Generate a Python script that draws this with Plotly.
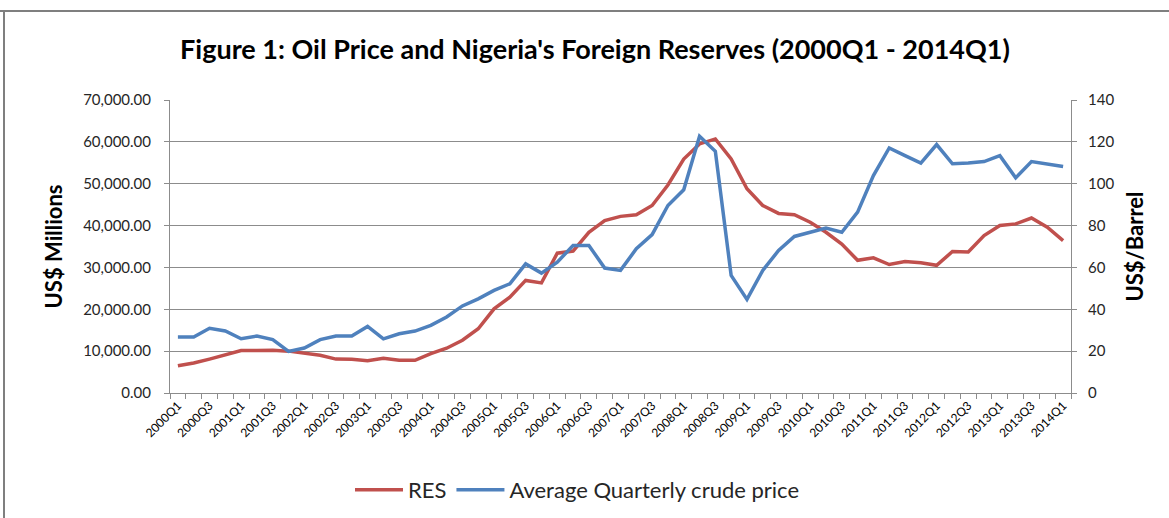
import plotly.graph_objects as go

quarters = [f"{y}Q{q}" for y in range(2000, 2015) for q in range(1, 5)][:57]

res = [6500, 7150, 8100, 9150, 10150, 10150, 10200, 10000, 9600, 9000,
       8100, 8050, 7700, 8300, 7800, 7800, 9400, 10700, 12600, 15350,
       20100, 22900, 26900, 26300, 33400, 33900, 38400, 41200, 42200, 42600,
       44800, 49700, 55900, 59500, 60700, 55900, 48800, 44800, 42900, 42600,
       40800, 38400, 35600, 31700, 32300, 30700, 31400, 31100, 30500, 33800,
       33700, 37600, 40000, 40400, 41800, 39600, 36400]

price = [26.7, 26.7, 30.9, 29.6, 25.9, 27.2, 25.5, 19.9, 21.5, 25.5,
         27.2, 27.2, 31.8, 25.9, 28.3, 29.6, 32.3, 36.3, 41.6, 45.0,
         49.0, 52.2, 61.7, 57.3, 62.5, 70.5, 70.5, 59.7, 58.6, 68.9,
         75.7, 89.6, 97.1, 122.7, 115.5, 56.2, 44.7, 58.6, 68.1, 74.8,
         76.8, 78.8, 76.8, 86.4, 103.9, 117.1, 113.4, 109.8, 118.7, 109.5,
         109.9, 110.6, 113.4, 102.8, 110.6, 109.5, 108.2]

left_ticks = [0, 10000, 20000, 30000, 40000, 50000, 60000, 70000]
right_ticks = [0, 20, 40, 60, 80, 100, 120, 140]

idx = list(range(len(quarters)))
FONT = "Lato"
GRID = "#8c8c8c"
TXT = "#262626"

fig = go.Figure()
fig.add_trace(go.Scatter(x=idx, y=res, name="RES", mode="lines",
                         line=dict(color="#C0504D", width=3.5), yaxis="y"))
fig.add_trace(go.Scatter(x=idx, y=price, name="Average Quarterly crude price", mode="lines",
                         line=dict(color="#4F81BD", width=3.5), yaxis="y2"))

fig.update_layout(
    width=1169, height=518,
    margin=dict(l=170, r=98, t=100, b=125, autoexpand=False),
    paper_bgcolor="white", plot_bgcolor="white",
    font=dict(family=FONT, color=TXT),
    title=dict(text="<b>Figure 1: Oil Price and Nigeria's Foreign Reserves (2000Q1 - 2014Q1)</b>",
               x=(595 - 0) / 1169, xanchor="center", y=1 - 50 / 518, yanchor="middle",
               font=dict(family=FONT, size=27, color="#000000")),
    xaxis=dict(range=[-0.5, 56.5], tickmode="array", tickvals=idx[::2],
               ticktext=quarters[::2], tickangle=-45, showgrid=False,
               showline=True, linecolor=GRID, linewidth=1, ticks="",
               tickfont=dict(family=FONT, size=12, color="#000000"), automargin=False,
               minor=dict(tickmode="linear", tick0=-0.5, dtick=1, ticks="outside",
                          ticklen=5, tickcolor=GRID, showgrid=False),
               zeroline=False),
    yaxis=dict(range=[0, 70000], tickvals=left_ticks, tickformat=",.2f",
               showgrid=True, gridcolor=GRID, gridwidth=1, automargin=False,
               showline=True, linecolor=GRID, ticks="outside", ticklen=5, tickcolor=GRID,
               ticklabelstandoff=10,
               tickfont=dict(family=FONT, size=15), zeroline=False,
               title=dict(text="<b>US$ Millions</b>", font=dict(family=FONT, size=22, color="#000000"),
                          standoff=14)),
    yaxis2=dict(range=[0, 140], tickvals=right_ticks, overlaying="y", side="right",
                showgrid=False, showline=True, linecolor=GRID, ticks="outside", ticklen=5,
                tickcolor=GRID, tickfont=dict(family=FONT, size=15), zeroline=False,
                ticklabelstandoff=8, automargin=False,
                title=dict(text="<b>US$/Barrel</b>", font=dict(family=FONT, size=22, color="#000000"),
                           standoff=14)),
    legend=dict(orientation="h", x=(350 - 170) / 901, xanchor="left",
                y=-(490 - 393) / 293, yanchor="middle",
                font=dict(family=FONT, size=22), itemwidth=48, bgcolor="rgba(0,0,0,0)"),
    showlegend=True,
)

fig.add_shape(type="line", xref="paper", yref="paper",
              x0=-170 / 901, x1=1 + 98 / 901, y0=1 + 89 / 293, y1=1 + 89 / 293,
              line=dict(color="#7f7f7f", width=2))
fig.add_shape(type="line", xref="paper", yref="paper",
              x0=-166 / 901, x1=-166 / 901, y0=-125 / 293, y1=1 + 89 / 293,
              line=dict(color="#7f7f7f", width=2))

fig.write_html("out.html", config={"displayModeBar": False},
               post_script="document.body.style.margin='0';")
